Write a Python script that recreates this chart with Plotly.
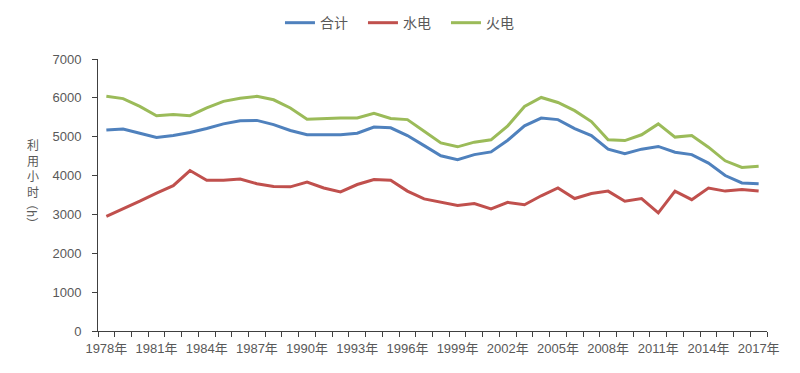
import plotly.graph_objects as go

years = list(range(1978, 2018))
tick_years = list(range(1978, 2018, 3))
tick_labels = [f"{y}年" for y in tick_years]

total = [5170, 5200, 5090, 4980, 5030, 5110, 5210, 5330, 5410, 5420,
         5310, 5160, 5050, 5050, 5050, 5090, 5250, 5230, 5030, 4770,
         4510, 4410, 4540, 4610, 4910, 5280, 5480, 5440, 5210, 5030,
         4680, 4560, 4680, 4750, 4600, 4540, 4320, 4000, 3810, 3790]

hydro = [2950, 3140, 3340, 3550, 3740, 4130, 3880, 3880, 3910, 3790,
         3720, 3710, 3830, 3680, 3580, 3770, 3900, 3880, 3600, 3400,
         3320, 3230, 3280, 3140, 3310, 3250, 3480, 3680, 3410, 3540,
         3600, 3340, 3410, 3040, 3600, 3380, 3680, 3600, 3640, 3600]

thermal = [6040, 5980, 5780, 5540, 5570, 5540, 5740, 5910, 5990, 6040,
           5950, 5740, 5450, 5470, 5480, 5480, 5600, 5470, 5440, 5140,
           4840, 4740, 4860, 4920, 5280, 5780, 6010, 5880, 5670, 5390,
           4920, 4900, 5050, 5330, 4990, 5030, 4730, 4380, 4210, 4240]

series = [("合计", total, "#4F81BD"), ("水电", hydro, "#C0504D"), ("火电", thermal, "#9BBB59")]

y_title_chars = ["利", "用", "小", "时"]
y_title_unit = "（h）"

font_family = "Liberation Sans, Noto Sans CJK SC"
cjk = "Noto Sans CJK SC"
grey = "#595959"

fig = go.Figure()
for name, vals, color in series:
    fig.add_trace(go.Scatter(x=years, y=vals, name=name, mode="lines",
                             line=dict(color=color, width=3)))

fig.update_layout(
    width=792, height=365,
    margin=dict(l=90, r=33, t=51, b=42, autoexpand=False),
    plot_bgcolor="white", paper_bgcolor="white",
    font=dict(family=font_family, size=12, color=grey),
    legend=dict(orientation="h", x=0.272, xanchor="left", y=1.132, yanchor="middle",
                font=dict(family=cjk, size=14, color=grey),
                itemwidth=30, entrywidth=38, entrywidthmode="pixels", tracegroupgap=0),
    showlegend=True,
)
fig.update_xaxes(
    automargin=False,
    range=[1977.5, 2017.5], tickmode="array", tickvals=tick_years, ticktext=tick_labels,
    ticks="", showline=True, linecolor="#404040", linewidth=1, showgrid=False, zeroline=False,
    tickfont=dict(family=font_family, size=13, color=grey), ticklabelstandoff=5,
    minor=dict(ticks="outside", tickmode="linear", tick0=1977.5, dtick=1, ticklen=5,
               tickcolor="#404040", showgrid=False),
)
fig.update_yaxes(
    automargin=False,
    range=[0, 7000], dtick=1000, ticks="outside", ticklen=5, tickcolor="#404040",
    showline=True, linecolor="#404040", linewidth=1, showgrid=False, zeroline=False,
    tickfont=dict(family=font_family, size=13, color=grey), ticklabelstandoff=8,
)
fig.add_annotation(text="<br>".join(y_title_chars), xref="paper", yref="paper",
                   x=-0.097, y=(331 - 168) / 272, xanchor="center", yanchor="middle",
                   showarrow=False, font=dict(family=cjk, size=12, color=grey))
fig.add_annotation(text=y_title_unit, xref="paper", yref="paper", textangle=90,
                   x=-0.097, y=(331 - 213) / 272, xanchor="center", yanchor="middle", showarrow=False,
                   font=dict(family=cjk, size=12, color=grey))

fig.write_html("out.html")
